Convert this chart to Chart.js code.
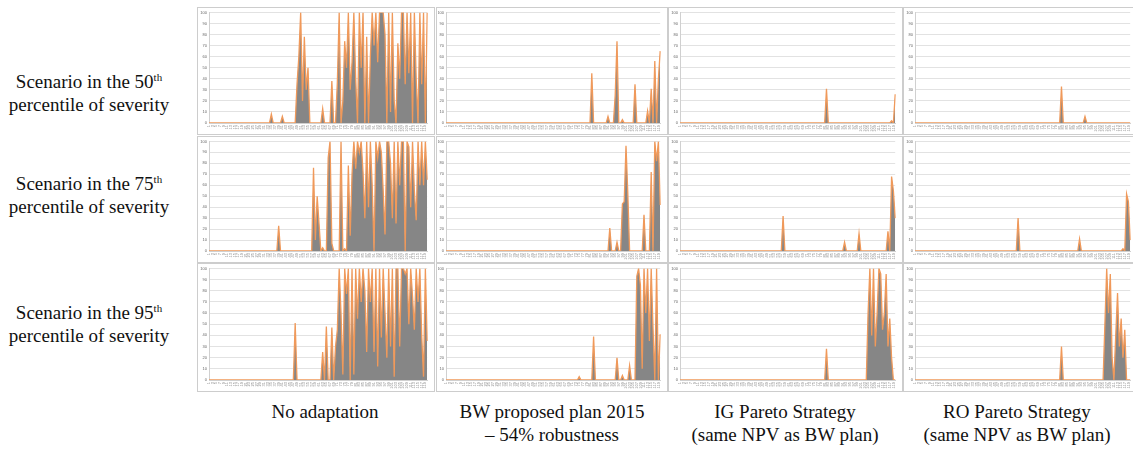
<!DOCTYPE html>
<html>
<head>
<meta charset="utf-8">
<script src="https://cdn.jsdelivr.net/npm/chart.js@4/dist/chart.umd.min.js"></script>
<style>
  html, body { margin: 0; padding: 0; background: #fff; width: 1133px; height: 450px; overflow: hidden; position: relative;
    font-family: "Liberation Serif", "Times New Roman", serif; color: #111; }
  .panel { position: absolute; border: 1px solid #cdcdcd; background: #fff; box-sizing: border-box; }
  .panel canvas { display: block; }
  .lbl { position: absolute; text-align: center; font-size: 19px; line-height: 23px; white-space: nowrap; transform: translateX(-50%); }
  .lbl sup { font-size: 11px; vertical-align: 7px; line-height: 0; }
</style>
</head>
<body>
<div id="grid"></div>
<script>
// Time steps along each small chart (tick labels are printed tiny, every other step)
const steps = Array.from({ length: 120 }, (_, i) => String(i + 1));
const yTickValues = [0, 10, 20, 30, 40, 50, 60, 70, 80, 90, 100];

const rowTitles = [
  ['Scenario in the 50<sup>th</sup>', 'percentile of severity'],
  ['Scenario in the 75<sup>th</sup>', 'percentile of severity'],
  ['Scenario in the 95<sup>th</sup>', 'percentile of severity']
];
const colTitles = [
  ['No adaptation'],
  ['BW proposed plan 2015', '\u2013 54% robustness'],
  ['IG Pareto Strategy', '(same NPV as BW plan)', '\u2013 81% robustness'],
  ['RO Pareto Strategy', '(same NPV as BW plan)', '\u2013 95% robustness']
];

// 50th percentile scenario
const p50NoAdapt = [
  0,0,0,0,0,0,0,0,0,0,
  0,0,0,0,0,0,0,0,0,0,
  0,0,0,0,0,0,0,0,0,0,
  0,0,0,0,8,0,0,0,0,0,
  6,0,0,0,0,0,0,0,35,60,
  100,20,78,30,50,0,0,0,0,0,
  0,0,13,0,0,0,0,38,0,0,
  37,100,0,20,74,50,100,30,55,100,
  40,0,100,50,100,0,78,0,60,100,
  70,100,55,100,100,100,80,0,100,10,
  100,20,0,72,40,100,100,35,100,45,
  100,0,100,40,0,100,35,100,0,100
];
const p50BW = [
  0,0,0,0,0,0,0,0,0,0,
  0,0,0,0,0,0,0,0,0,0,
  0,0,0,0,0,0,0,0,0,0,
  0,0,0,0,0,0,0,0,0,0,
  0,0,0,0,0,0,0,0,0,0,
  0,0,0,0,0,0,0,0,0,0,
  0,0,0,0,0,0,0,0,0,0,
  0,0,0,0,0,0,0,0,0,0,
  0,45,0,0,0,0,0,0,0,0,
  6,0,0,0,25,74,0,0,3,0,
  0,0,0,0,0,35,0,0,0,0,
  0,0,11,0,31,0,56,0,40,65
];
const p50IG = [
  0,0,0,0,0,0,0,0,0,0,
  0,0,0,0,0,0,0,0,0,0,
  0,0,0,0,0,0,0,0,0,0,
  0,0,0,0,0,0,0,0,0,0,
  0,0,0,0,0,0,0,0,0,0,
  0,0,0,0,0,0,0,0,0,0,
  0,0,0,0,0,0,0,0,0,0,
  0,0,0,0,0,0,0,0,0,0,
  0,31,0,0,0,0,0,0,0,0,
  0,0,0,0,0,0,0,0,0,0,
  0,0,0,0,0,0,0,0,0,0,
  0,0,0,0,0,0,0,2,0,26
];
const p50RO = [
  0,0,0,0,0,0,0,0,0,0,
  0,0,0,0,0,0,0,0,0,0,
  0,0,0,0,0,0,0,0,0,0,
  0,0,0,0,0,0,0,0,0,0,
  0,0,0,0,0,0,0,0,0,0,
  0,0,0,0,0,0,0,0,0,0,
  0,0,0,0,0,0,0,0,0,0,
  0,0,0,0,0,0,0,0,0,0,
  0,33,0,0,0,0,0,0,0,0,
  0,0,0,0,6,0,0,0,0,0,
  0,0,0,0,0,0,0,0,0,0,
  0,0,0,0,0,0,0,0,0,0
];

// 75th percentile scenario
const p75NoAdapt = [
  0,0,0,0,0,0,0,0,0,0,
  0,0,0,0,0,0,0,0,0,0,
  0,0,0,0,0,0,0,0,0,0,
  0,0,0,0,0,0,0,0,23,0,
  0,0,0,0,0,0,0,0,0,0,
  0,0,0,0,0,0,0,76,10,50,
  25,0,3,0,0,85,100,7,0,0,
  0,0,100,0,2,0,78,14,70,100,
  75,100,90,100,72,30,100,40,100,60,
  0,100,85,100,90,55,15,100,100,80,
  30,100,25,100,60,100,100,0,100,95,
  40,100,55,28,100,60,100,60,100,65
];
const p75BW = [
  0,0,0,0,0,0,0,0,0,0,
  0,0,0,0,0,0,0,0,0,0,
  0,0,0,0,0,0,0,0,0,0,
  0,0,0,0,0,0,0,0,0,0,
  0,0,0,0,0,0,0,0,0,0,
  0,0,0,0,0,0,0,0,0,0,
  0,0,0,0,0,0,0,0,0,0,
  0,0,0,0,0,0,0,0,0,0,
  0,0,0,0,0,0,0,0,0,0,
  0,21,0,0,0,8,0,0,43,45,
  96,53,0,0,0,0,0,0,0,0,
  33,0,0,0,72,0,100,82,100,42
];
const p75IG = [
  0,0,0,0,0,0,0,0,0,0,
  0,0,0,0,0,0,0,0,0,0,
  0,0,0,0,0,0,0,0,0,0,
  0,0,0,0,0,0,0,0,0,0,
  0,0,0,0,0,0,0,0,0,0,
  0,0,0,0,0,0,0,32,0,0,
  0,0,0,0,0,0,0,0,0,0,
  0,0,0,0,0,0,0,0,0,0,
  0,0,0,0,0,0,0,0,0,0,
  0,8,0,0,0,0,0,0,0,16,
  0,0,0,0,0,0,0,0,0,0,
  0,0,0,0,0,18,0,68,55,30
];
const p75RO = [
  0,0,0,0,0,0,0,0,0,0,
  0,0,0,0,0,0,0,0,0,0,
  0,0,0,0,0,0,0,0,0,0,
  0,0,0,0,0,0,0,0,0,0,
  0,0,0,0,0,0,0,0,0,0,
  0,0,0,0,0,0,0,30,0,0,
  0,0,0,0,0,0,0,0,0,0,
  0,0,0,0,0,0,0,0,0,0,
  0,0,0,0,0,0,0,0,0,0,
  0,11,0,0,0,0,0,0,0,0,
  0,0,0,0,0,0,0,0,0,0,
  0,0,0,0,0,2,0,52,45,10
];

// 95th percentile scenario
const p95NoAdapt = [
  0,0,0,0,0,0,0,0,0,0,
  0,0,0,0,0,0,0,0,0,0,
  0,0,0,0,0,0,0,0,0,0,
  0,0,0,0,0,0,0,0,0,0,
  0,0,0,0,0,0,0,51,0,0,
  0,0,0,0,0,0,0,0,0,0,
  0,0,25,0,48,0,0,47,0,30,
  45,100,60,5,100,77,100,0,100,5,
  100,55,100,70,100,80,25,100,70,100,
  25,100,12,100,38,100,60,20,100,30,
  100,3,100,100,30,100,100,95,100,50,
  100,75,45,100,70,100,40,3,100,35
];
const p95BW = [
  0,0,0,0,0,0,0,0,0,0,
  0,0,0,0,0,0,0,0,0,0,
  0,0,0,0,0,0,0,0,0,0,
  0,0,0,0,0,0,0,0,0,0,
  0,0,0,0,0,0,0,0,0,0,
  0,0,0,0,0,0,0,0,0,0,
  0,0,0,0,0,0,0,0,0,0,
  0,0,0,0,3,0,0,0,0,0,
  0,0,39,0,0,0,0,0,0,0,
  0,0,0,0,0,20,0,0,4,0,
  0,0,13,0,0,0,93,100,85,10,
  100,60,100,35,100,47,0,100,0,41
];
const p95IG = [
  0,0,0,0,0,0,0,0,0,0,
  0,0,0,0,0,0,0,0,0,0,
  0,0,0,0,0,0,0,0,0,0,
  0,0,0,0,0,0,0,0,0,0,
  0,0,0,0,0,0,0,0,0,0,
  0,0,0,0,0,0,0,0,0,0,
  0,0,0,0,0,0,0,0,0,0,
  0,0,0,0,0,0,0,0,0,0,
  0,28,0,0,0,0,0,0,0,0,
  0,0,0,0,0,0,0,0,0,0,
  0,0,0,0,60,100,40,100,30,60,
  100,95,45,60,95,30,55,20,0,0
];
const p95RO = [
  0,0,0,0,0,0,0,0,0,0,
  0,0,0,0,0,0,0,0,0,0,
  0,0,0,0,0,0,0,0,0,0,
  0,0,0,0,0,0,0,0,0,0,
  0,0,0,0,0,0,0,0,0,0,
  0,0,0,0,0,0,0,0,0,0,
  0,0,0,0,0,0,0,0,0,0,
  0,0,0,0,0,0,0,0,0,0,
  0,30,0,0,0,0,0,0,0,0,
  0,0,0,0,0,0,0,0,0,0,
  0,0,0,0,0,50,100,60,95,20,
  0,40,78,30,55,20,45,0,0,0
];

const panelSeries = [
  [p50NoAdapt, p50BW, p50IG, p50RO],
  [p75NoAdapt, p75BW, p75IG, p75RO],
  [p95NoAdapt, p95BW, p95IG, p95RO]
];

// Grid geometry
const colLeft = [197, 436, 668, 903];
const colWidth = [238, 232, 235, 235];
const rowTop = [7, 136, 263];
const rowHeight = [128, 127, 129];
const yAxisWidth = [10, 8, 10, 10];
const rightPad = [5, 2, 2, 2];
const rowLabelY = [70, 172, 301];
const colLabelX = [325, 552, 785, 1017];
const colLabelY = 400;

const grid = document.getElementById('grid');

rowTitles.forEach((lines, r) => {
  const d = document.createElement('div');
  d.className = 'lbl';
  d.style.left = '89px';
  d.style.top = rowLabelY[r] + 'px';
  d.innerHTML = lines.join('<br>');
  document.body.appendChild(d);
});
colTitles.forEach((lines, c) => {
  const d = document.createElement('div');
  d.className = 'lbl';
  d.style.left = colLabelX[c] + 'px';
  d.style.top = colLabelY + 'px';
  d.innerHTML = lines.join('<br>');
  document.body.appendChild(d);
});

for (let r = 0; r < 3; r++) {
  for (let c = 0; c < 4; c++) {
    const box = document.createElement('div');
    box.className = 'panel';
    box.style.left = colLeft[c] + 'px';
    box.style.top = rowTop[r] + 'px';
    box.style.width = colWidth[c] + 'px';
    box.style.height = rowHeight[r] + 'px';
    const cv = document.createElement('canvas');
    cv.width = colWidth[c] - 2;
    cv.height = rowHeight[r] - 2;
    box.appendChild(cv);
    grid.appendChild(box);

    new Chart(cv, {
      type: 'line',
      data: {
        labels: steps,
        datasets: [{
          data: panelSeries[r][c],
          borderColor: '#f0995a',
          backgroundColor: '#868686',
          borderWidth: 1.3,
          fill: 'origin',
          tension: 0,
          pointRadius: 0
        }]
      },
      options: {
        responsive: false,
        animation: false,
        events: [],
        layout: { padding: { top: 3, right: rightPad[c], left: 1, bottom: 0 } },
        plugins: { legend: { display: false }, tooltip: { enabled: false } },
        scales: {
          x: {
            offset: false,
            grid: { display: false, drawTicks: false },
            border: { color: '#d0d0d0' },
            ticks: {
              autoSkip: false, maxRotation: 90, minRotation: 90, padding: 2,
              font: { size: 4, family: 'Liberation Sans' }, color: '#8a8a8a',
              callback: (v, i) => (i % 2 === 0 ? steps[i] : '')
            },
            afterFit: s => { s.height = 11; }
          },
          y: {
            min: 0, max: 100,
            afterBuildTicks: s => { s.ticks = yTickValues.map(v => ({ value: v })); },
            grid: { color: '#e2e2e2', lineWidth: 1, drawTicks: false },
            border: { color: '#d0d0d0' },
            ticks: { font: { size: 4, family: 'Liberation Sans' }, color: '#666', padding: 2 },
            afterFit: s => { s.width = yAxisWidth[c]; }
          }
        }
      }
    });
  }
}
</script>
</body>
</html>
